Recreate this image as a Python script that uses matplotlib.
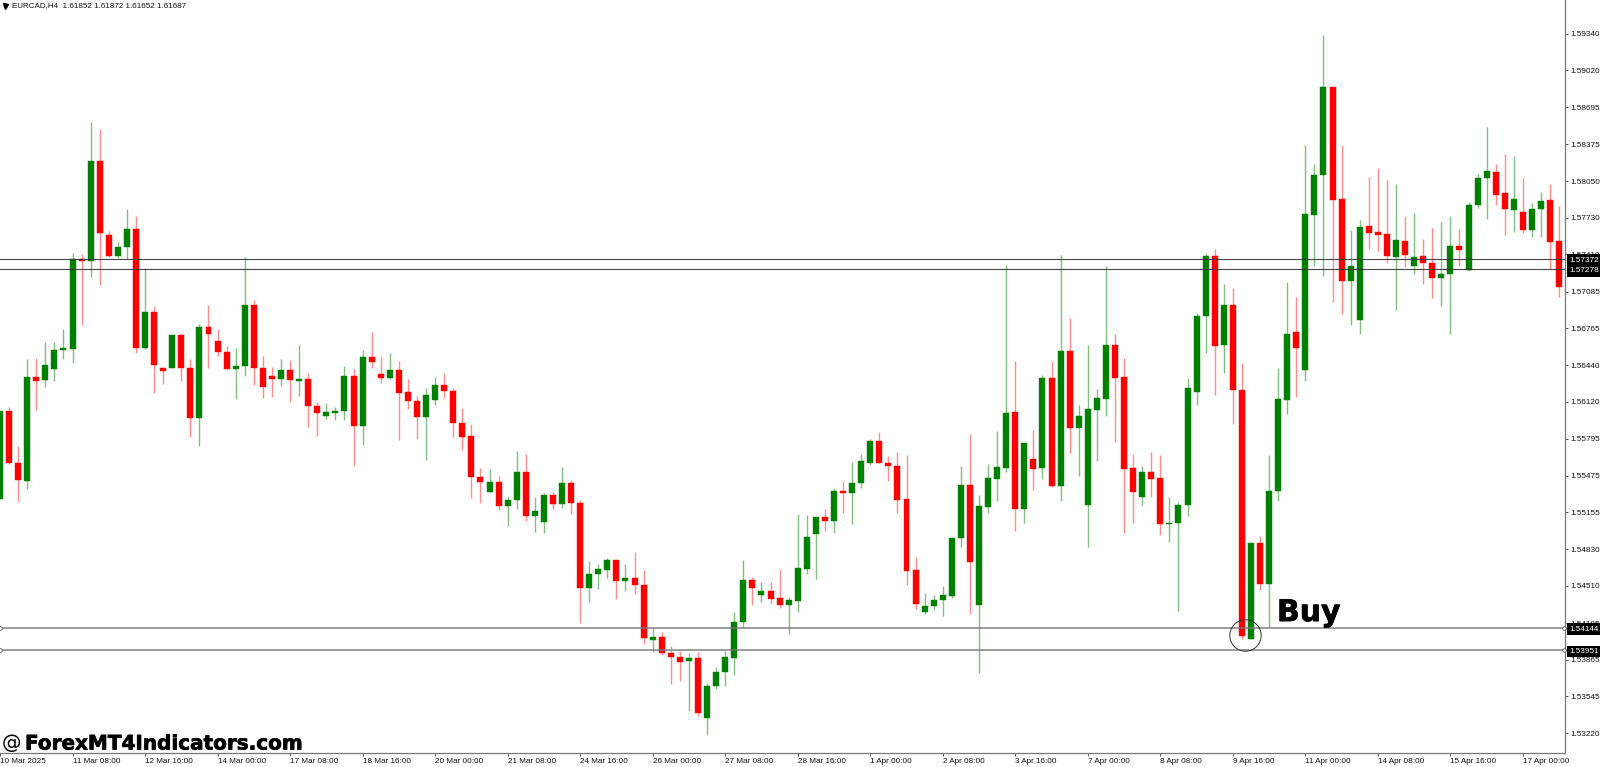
import matplotlib
matplotlib.use("Agg")
import matplotlib.pyplot as plt
import matplotlib.patheffects as pe
import numpy as np

# EURCAD H4 candles, prices in points (price x 100000)
opens = [155270,156036,155587,155430,156334,156308,156410,156576,156585,157372,
157349,158223,157582,157392,157474,157632,156588,156905,156418,156416,
156707,156413,155975,156771,156652,156556,156410,156433,156970,156418,
156346,156322,156398,156305,156316,156086,155996,156025,156042,156346,
155911,156512,156363,156325,156398,156206,156124,155984,156136,156264,
156215,155935,155818,155465,155334,155419,155209,155261,155506,155118,
155072,155308,155226,155413,155235,154491,154617,154649,154736,154553,
154579,154515,154039,154060,153926,153891,153856,153876,153357,153634,
153754,153882,154194,154561,154427,154465,154404,154343,154381,154657,
154966,155115,155077,155339,155319,155406,155581,155774,155584,155561,
155269,154645,154284,154333,154383,154421,154925,155392,154339,155202,
155447,155538,156027,155182,155616,155538,156328,155383,156567,155893,
155214,156048,156147,156619,156334,155538,155287,155505,155453,155053,
155056,155214,156202,156868,157393,156617,156964,156223,154048,154888,
154523,155337,156139,156728,156395,157754,158101,158874,157891,157174,
156836,157655,157605,157585,157387,157530,157311,157395,157337,157203,
157238,157483,157273,157839,158078,158133,157944,157798,157777,157626,
157804,157882,157524]
highs = [156036,156071,155733,156494,156500,156646,156646,156754,157424,157413,
158570,158503,157617,157515,157804,157745,157287,156958,156427,156707,
156713,156491,156798,156964,156754,156611,156593,157384,157010,156521,
156424,156494,156488,156614,156369,156121,156109,156071,156433,156404,
156573,156730,156512,156544,156474,156317,156171,156241,156340,156375,
156238,156063,155926,155538,155530,155471,155285,155690,155661,155288,
155320,155331,155547,155436,155261,154725,154701,154754,154736,154704,
154806,154646,154142,154104,153984,153940,153920,153932,153658,153797,
153943,154282,154736,154585,154541,154541,154658,154410,155139,155129,
155115,155179,155365,155427,155596,155660,155797,155858,155645,155680,
155654,154762,154444,154427,154508,154925,155561,155835,155307,155573,
155864,157316,156474,155759,155870,156354,156474,157404,156850,156092,
156616,156234,157305,156716,156503,155660,155558,155678,155651,155284,
155240,156328,156899,157410,157454,157148,157118,156457,154895,154943,
155652,156413,157168,157034,158366,158203,159326,158874,158364,157623,
157710,158087,158165,158057,158022,157748,157772,157541,157643,157693,
157748,157632,157865,158113,158521,158203,158288,158270,158075,157856,
157952,158022,157833]
lows = [155270,155573,155247,155357,156048,156252,156305,156491,156462,156795,
157209,157139,157387,157375,157366,156544,156582,156200,156276,156413,
156302,155809,155736,156418,156523,156395,156141,156346,156267,156153,
156165,156258,156121,156171,155902,155824,155969,155961,155958,155561,
155742,156418,156284,156319,155786,156060,155798,155611,156089,156157,
155810,155696,155282,155235,155328,155174,155031,155180,155078,154981,
154973,155180,155194,155136,154185,154372,154486,154579,154395,154468,
154439,154002,153935,153902,153652,153678,153418,153372,153206,153611,
153634,153728,154147,154343,154366,154352,154319,154089,154284,154616,
154567,154986,154969,155147,155048,155363,155570,155581,155427,155150,
154517,154304,154263,154298,154243,154403,154849,154266,153750,155147,
155249,155503,154992,155059,155348,155441,155371,155249,155675,155470,
154849,155605,155995,155771,154975,155059,155214,155284,154954,154896,
154292,155121,156094,156550,156182,156372,155926,154048,154044,154474,
154153,155252,156013,156162,156302,157308,157221,156993,156885,156792,
156716,157457,157442,157337,156920,157299,157238,157153,157031,156955,
156716,157308,157267,157812,157719,157845,157579,157605,157594,157562,
157565,157279,157037]
closes = [156036,155582,155433,156334,156305,156442,156573,156588,157372,157352,
158223,157597,157392,157474,157632,156593,156905,156442,156392,156707,
156416,155975,156771,156713,156556,156410,156433,156970,156418,156252,
156322,156398,156308,156316,156086,156019,156028,156042,156348,155911,
156512,156468,156328,156398,156200,156124,155984,156177,156264,156215,
155935,155815,155465,155419,155419,155209,155261,155506,155121,155168,
155308,155226,155413,155235,154491,154611,154655,154734,154553,154579,
154518,154057,154060,153923,153888,153847,153876,153401,153637,153757,
153891,154194,154561,154489,154465,154398,154343,154387,154664,154940,
155115,155077,155339,155322,155412,155602,155774,155581,155558,155263,
154639,154354,154333,154386,154427,154925,155392,154715,155208,155453,
155546,156022,155182,155759,155535,156328,155386,156567,155893,155992,
156057,156150,156619,156328,155532,155331,155505,155447,155048,155059,
155214,156240,156870,157393,156611,156964,156223,154071,154888,154523,
155337,156142,156716,156594,157760,158101,158874,157888,157180,157305,
157652,157600,157579,157393,157535,157404,157390,157331,157206,157241,
157483,157445,157842,158078,158139,157932,157804,157891,157626,157807,
157880,157521,157127]

x_tick_labels = ["10 Mar 2025","11 Mar 08:00","12 Mar 16:00","14 Mar 00:00","17 Mar 08:00",
"18 Mar 16:00","20 Mar 00:00","21 Mar 08:00","24 Mar 16:00","26 Mar 00:00","27 Mar 08:00",
"28 Mar 16:00","1 Apr 00:00","2 Apr 08:00","3 Apr 16:00","7 Apr 00:00","8 Apr 08:00",
"9 Apr 16:00","11 Apr 00:00","14 Apr 08:00","15 Apr 16:00","17 Apr 00:00"]
y_ticks = [1.59340,1.59020,1.58695,1.58375,1.58050,1.57730,1.57410,1.57085,1.56765,1.56440,
1.56120,1.55795,1.55475,1.55155,1.54830,1.54510,1.54185,1.53865,1.53545,1.53220]
dark_levels = [1.57372,1.57278]
grey_levels = [1.54144,1.53951]
header = "EURCAD,H4  1.61852 1.61872 1.61652 1.61687"

FONT = "Liberation Sans"
FS = 5.9
W, H = 1600, 767
fig = plt.figure(figsize=(W/100, H/100), dpi=100, facecolor="white")
ax = fig.add_axes([0, 14/H, 1565/W, 753/H])

o, h, l, c = [np.array(a)/1e5 for a in (opens, highs, lows, closes)]
x = np.arange(len(o))
up = c >= o
GREEN, RED = "#008000", "#ff0000"

ax.vlines(x[up], l[up], h[up], color=GREEN, lw=1.0, alpha=0.5, zorder=2)
ax.vlines(x[~up], l[~up], h[~up], color=RED, lw=1.0, alpha=0.45, zorder=2)
ax.bar(x[up], (c-o)[up], bottom=o[up], width=0.66, color=GREEN, lw=0.3, edgecolor=GREEN, zorder=3)
ax.bar(x[~up], (c-o)[~up], bottom=o[~up], width=0.66, color=RED, lw=0.3, edgecolor=RED, zorder=3)

for lv in dark_levels:
    ax.axhline(lv, color="#333333", lw=0.8, alpha=0.9, zorder=4)
for lv in grey_levels:
    ax.axhline(lv, color="#777777", lw=1.2, alpha=0.85, zorder=4)
    ax.plot([0, 172.55], [lv, lv], ls="none", marker="o", ms=2.6, mfc="white", mec="#555555", mew=0.6,
            zorder=5, clip_on=False)

ax.set_xlim(0, 1565/9.065)
ax.set_ylim(1.53048, 1.59635)
ax.set_xticks(x[::8][:len(x_tick_labels)])
ax.set_xticklabels(x_tick_labels, ha="left", fontsize=FS, color="#111111", family=FONT)
ax.yaxis.tick_right()
ax.set_yticks(y_ticks)
ax.set_yticklabels([f"{v:.5f}" for v in y_ticks], fontsize=FS, color="#111111", family=FONT)
ax.tick_params(axis="x", length=2.2, width=0.7, pad=1.6, color="#555555")
ax.tick_params(axis="y", length=2, width=0.7, pad=1.6, color="#555555")
for s in ("top", "left"):
    ax.spines[s].set_visible(False)
for s in ("right", "bottom"):
    ax.spines[s].set_color("#777777")
    ax.spines[s].set_linewidth(0.9)

trans = ax.get_yaxis_transform()
for lv in dark_levels + grey_levels:
    ax.annotate(f"{lv:.5f}", xy=(1.0, lv), xycoords=trans, xytext=(3.1, -1.1), textcoords="offset points",
                fontsize=FS, family=FONT, color="white", va="center", ha="left",
                annotation_clip=False, zorder=10,
                bbox=dict(boxstyle="square,pad=0.28", fc="black", ec="black", lw=0))

ax.plot([1245/9.065], [1.54080], marker="o", ms=22.6, mfc="none", mec="#333333", mew=0.7, zorder=6)
heavy = [pe.withStroke(linewidth=0.5, foreground="black")]
ax.text(1277/9.065, 1.54202, "Buy", fontsize=21.5, fontweight="bold", color="black", ha="left",
        va="baseline", zorder=7, path_effects=heavy)

fig.text(12/W, 1-6/H, header, fontsize=5.75, family=FONT, color="#111111", ha="left", va="center")
ax.plot([5/1565], [1-5.5/753], transform=ax.transAxes, marker="v", ms=3.6, color="black", clip_on=False, zorder=8)
fig.text(2/W, 1-749.5/H, "@", fontsize=14, color="black", ha="left", va="baseline", zorder=9)
fig.text(25/W, 1-749.5/H, "ForexMT4Indicators.com", fontsize=14.4, fontweight="bold", color="black",
         ha="left", va="baseline", zorder=9, path_effects=heavy)

fig.savefig("out.png", dpi=100)
